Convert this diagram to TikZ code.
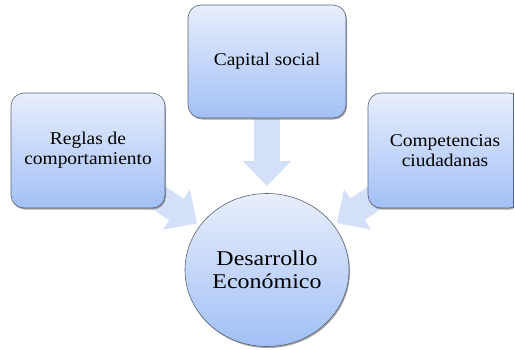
\documentclass[tikz,border=0pt]{standalone}
\usepackage{fontspec}
\setmainfont{Liberation Serif}
\newfontfamily\boxfont[FakeStretch=1.08]{Liberation Serif}
\newfontfamily\circfont[FakeStretch=1.14]{Liberation Serif}
\usetikzlibrary{shapes.geometric,arrows.meta,calc,shadows}
\pgfdeclarelayer{bg}
\pgfsetlayers{bg,main}
\definecolor{boxtop}{RGB}{232,238,252}
\definecolor{boxbot}{RGB}{162,192,246}
\definecolor{edgec}{RGB}{90,100,118}
\definecolor{arrowc}{RGB}{212,224,248}
\begin{document}
\begin{tikzpicture}[x=1pt,y=-1pt,
  shadowed/.style={drop shadow={shadow xshift=1pt,shadow yshift=-1.5pt,fill=black!60,opacity=0.6}},
  boxstyle/.style={rectangle, rounded corners=13pt, draw=edgec, line width=0.6pt,
    top color=boxtop, bottom color=boxbot, shadowed,
    minimum width=154pt, minimum height=115pt, inner sep=0pt, align=center,
    font=\boxfont\fontsize{18}{20}\selectfont},
  circstyle/.style={ellipse, draw=edgec, line width=0.6pt,
    top color=boxtop, bottom color=boxbot, shadowed,
    minimum width=164pt, minimum height=153pt, inner sep=0pt, align=center,
    font=\circfont\fontsize{21}{23}\selectfont},
  blockarrow/.style={draw=arrowc, line width=26pt, line cap=butt,
    -{Triangle[width=47pt,length=25pt]}}]
\useasboundingbox (0,0) rectangle (515,349);
\node[boxstyle] (lbox) at (88,150.5) {Reglas de\\comportamiento};
\node[boxstyle, minimum width=158pt, minimum height=113pt] (cap) at (267,61.5) {Capital social};
\begin{scope}
  \clip (0,0) rectangle (513.3,349);
  \node[boxstyle] (rbox) at (445,150.5) {Competencias\\ciudadanas};
\end{scope}
\draw[edgec, line width=0.8pt] (rbox.north east -| 513,0) -- (rbox.south east -| 513,0);
\node[circstyle] (circ) at (267,270) {Desarrollo\\Econ\'omico};
\begin{pgfonlayer}{bg}
  \draw[blockarrow] ($(circ)!151pt!(cap)$) -- ($(circ)!84pt!(cap)$);
  \draw[blockarrow] ($(circ)!151pt!(lbox)$) -- ($(circ)!84pt!(lbox)$);
  \draw[blockarrow] ($(circ)!151pt!(rbox)$) -- ($(circ)!84pt!(rbox)$);
\end{pgfonlayer}
\end{tikzpicture}
\end{document}
